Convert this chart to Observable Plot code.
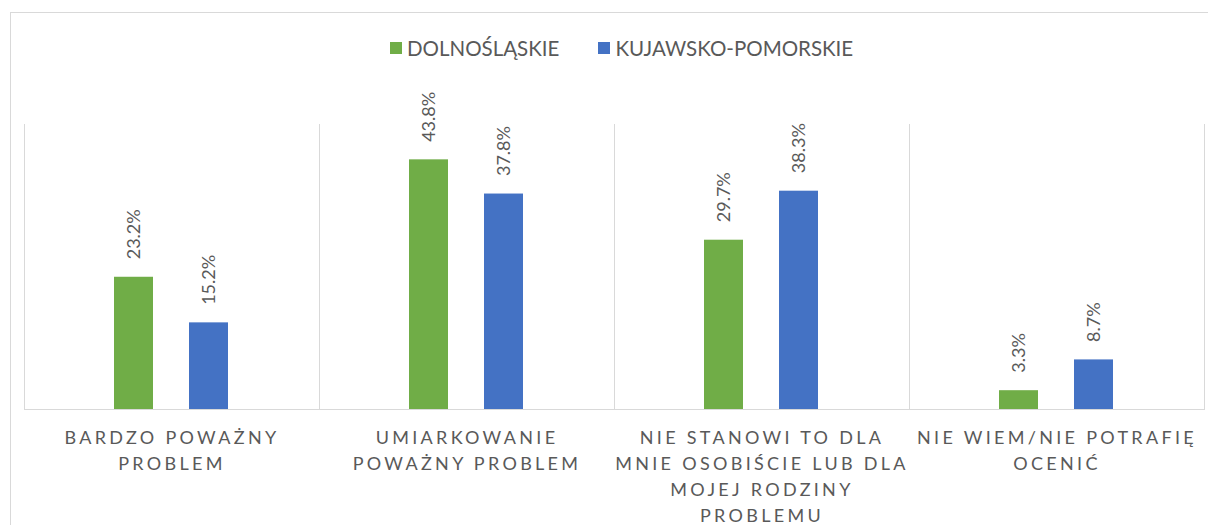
<!DOCTYPE html>
<html>
<head>
<meta charset="utf-8">
<script src="https://cdn.jsdelivr.net/npm/d3@7"></script>
<script src="https://cdn.jsdelivr.net/npm/@observablehq/plot@0.6"></script>
<style>
  html, body { margin: 0; padding: 0; background: #fff; }
  #wrap { position: relative; width: 1208px; height: 525px; overflow: hidden; font-family: Lato, "Open Sans", sans-serif; }
  #border { position: absolute; left: 10px; top: 12px; width: 1300px; height: 700px; border: 1px solid #d9d9d9; box-sizing: border-box; }
  #legend { position: absolute; top: 36px; left: 390px; display: flex; align-items: center; font-size: 20.5px; color: #595959; }
  #legend .item { display: flex; align-items: center; margin-right: 39px; }
  #legend .sw { width: 12px; height: 12px; margin-right: 5px; }
  #chart { position: absolute; left: 0; top: 0; }
</style>
</head>
<body>
<div id="wrap">
  <div id="border"></div>
  <div id="chart"></div>
  <div id="legend"></div>
</div>
<script>
const categories = [
  "BARDZO POWAŻNY PROBLEM",
  "UMIARKOWANIE POWAŻNY PROBLEM",
  "NIE STANOWI TO DLA MNIE OSOBIŚCIE LUB DLA MOJEJ RODZINY PROBLEMU",
  "NIE WIEM/NIE POTRAFIĘ OCENIĆ"
];
const categoryLabels = [
  "BARDZO POWAŻNY\nPROBLEM",
  "UMIARKOWANIE\nPOWAŻNY PROBLEM",
  "NIE STANOWI TO DLA\nMNIE OSOBIŚCIE LUB DLA\nMOJEJ RODZINY\nPROBLEMU",
  "NIE WIEM/NIE POTRAFIĘ\nOCENIĆ"
];
const seriesNames = ["DOLNOŚLĄSKIE", "KUJAWSKO-POMORSKIE"];
const dolnoslaskie = [23.2, 43.8, 29.7, 3.3];
const kujawskoPomorskie = [15.2, 37.8, 38.3, 8.7];
const seriesColors = ["#70AD47", "#4472C4"];

const seriesValues = [dolnoslaskie, kujawskoPomorskie];
const data = [];
categories.forEach((c, i) => {
  seriesNames.forEach((s, j) => {
    data.push({category: c, series: s, value: seriesValues[j][i]});
  });
});

const legend = document.getElementById("legend");
seriesNames.forEach((s, j) => {
  const item = document.createElement("div");
  item.className = "item";
  const sw = document.createElement("div");
  sw.className = "sw";
  sw.style.background = seriesColors[j];
  const t = document.createElement("span");
  t.textContent = s;
  item.appendChild(sw);
  item.appendChild(t);
  legend.appendChild(item);
});

const grid = "#d9d9d9";
const svg = Plot.plot({
  width: 1208,
  height: 525,
  marginTop: 124,
  marginBottom: 116,
  marginLeft: 22,
  marginRight: 3,
  style: {fontFamily: "Lato, 'Open Sans', sans-serif", background: "transparent"},
  fx: {domain: categories, padding: 0, axis: null},
  x: {domain: seriesNames, paddingInner: 0.474, paddingOuter: 1.184, align: 0.5, axis: null},
  y: {domain: [0, 50], axis: null},
  color: {domain: seriesNames, range: seriesColors},
  marks: [
    Plot.frame({anchor: "left", stroke: grid}),
    Plot.frame({anchor: "right", stroke: grid}),
    Plot.ruleY([0], {stroke: grid}),
    Plot.barY(data, {fx: "category", x: "series", y: "value", fill: "series"}),
    Plot.text(data, {
      fx: "category", x: "series", y: "value",
      text: d => d.value.toFixed(1) + "%",
      rotate: -90, textAnchor: "start", dy: -18,
      fill: "#595959", fontSize: 18
    }),
    Plot.text(categories, {
      fx: d => d,
      text: (d, i) => categoryLabels[i],
      frameAnchor: "bottom", lineAnchor: "top", dy: 16,
      lineHeight: 1.45, fontSize: 18, fill: "#595959"
    })
  ]
});
const textGroups = d3.select(svg).selectAll('g[aria-label="text"]').nodes();
if (textGroups.length) d3.select(textGroups[textGroups.length - 1]).style("letter-spacing", "3.3px");
document.getElementById("chart").appendChild(svg);
</script>
</body>
</html>
